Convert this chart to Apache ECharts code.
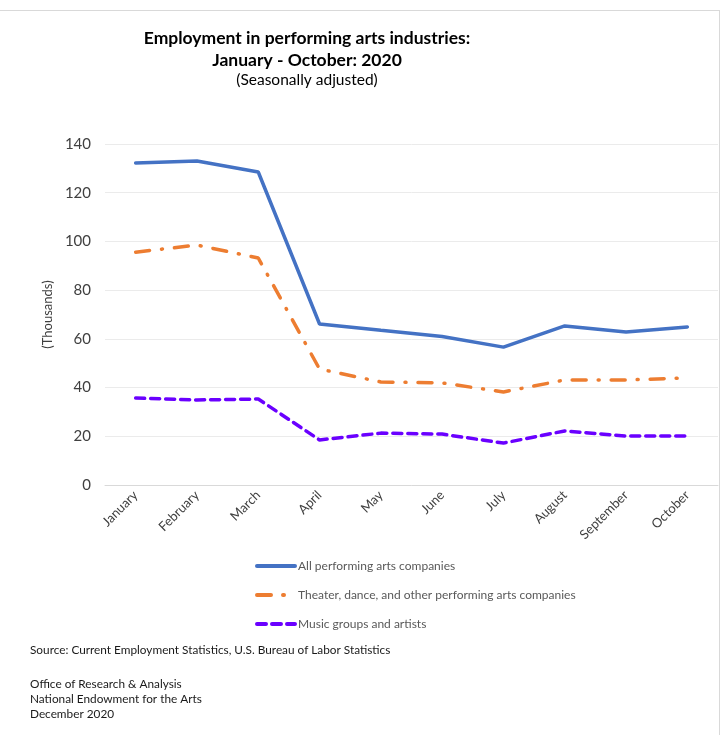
<!DOCTYPE html>
<html><head><meta charset="utf-8">
<script src="https://cdn.jsdelivr.net/npm/echarts@6/dist/echarts.min.js"></script>
<style>html,body{margin:0;padding:0;background:#fff}#c{width:723px;height:735px}
#frame{position:absolute;left:0;top:10px;width:720px;height:725px;border-top:1px solid #d9d9d9;border-right:1px solid #d9d9d9;box-sizing:border-box;pointer-events:none}</style>
</head><body><div id="c"></div><div id="frame"></div>
<script>
const months = ['January','February','March','April','May','June','July','August','September','October'];
const allArts = [132.2, 133.0, 128.5, 66.1, 63.5, 61.0, 56.6, 65.3, 62.8, 64.9];
const theater = [95.6, 98.5, 93.2, 47.6, 42.3, 41.9, 38.2, 43.1, 43.1, 44.0];
const music = [35.7, 34.9, 35.3, 18.5, 21.3, 20.9, 17.2, 22.2, 20.1, 20.1];
const seriesNames = ['All performing arts companies','Theater, dance, and other performing arts companies','Music groups and artists'];

const font = 'Lato, "Open Sans", sans-serif';
const chart = echarts.init(document.getElementById('c'));
chart.setOption({
  animation: false,
  textStyle: {fontFamily: font},
  title: [
    {text: 'Employment in performing arts industries:\nJanuary - October: 2020', left: 302, top: 22, textAlign: 'center',
     textStyle: {fontFamily: font, fontSize: 17.5, fontWeight: 'bold', color: '#000', lineHeight: 22}},
    {text: '(Seasonally adjusted)', left: 302, top: 67, textAlign: 'center',
     textStyle: {fontFamily: font, fontSize: 15.5, fontWeight: 'normal', color: '#000'}}
  ],
  grid: {left: 105, right: 5, top: 144, height: 341, containLabel: false},
  xAxis: {
    type: 'category', data: months, boundaryGap: true,
    axisLine: {lineStyle: {color: '#d9d9d9', width: 1}},
    axisTick: {show: false},
    axisLabel: {rotate: 45, fontSize: 13, color: '#404040', fontFamily: font, margin: 8}
  },
  yAxis: {
    type: 'value', min: 0, max: 140, interval: 20,
    name: '(Thousands)', nameLocation: 'middle', nameGap: 31, nameRotate: 90,
    nameTextStyle: {fontSize: 13, color: '#404040', fontFamily: font},
    axisLine: {show: false}, axisTick: {show: false},
    axisLabel: {fontSize: 15, color: '#404040', fontFamily: font, margin: 14},
    splitLine: {lineStyle: {color: '#ebebeb', width: 1}}
  },
  legend: {
    orient: 'vertical', left: 250, top: 555, itemGap: 17, itemWidth: 38, itemHeight: 13,
    itemStyle: {opacity: 0},
    lineStyle: {width: 4},
    textStyle: {fontSize: 12, color: '#595959', fontFamily: font, padding: [0,0,0,-2]},
    data: seriesNames
  },
  series: [
    {name: seriesNames[0], type: 'line', data: allArts, symbol: 'none',
     lineStyle: {color: '#4472C4', width: 3.5, cap: 'round'}, itemStyle: {color: '#4472C4'}},
    {name: seriesNames[1], type: 'line', data: theater, symbol: 'none',
     lineStyle: {color: '#ED7D31', width: 3.5, type: [14, 12, 1, 12], cap: 'round'}, itemStyle: {color: '#ED7D31'}},
    {name: seriesNames[2], type: 'line', data: music, symbol: 'none',
     lineStyle: {color: '#6A00FF', width: 3.5, type: [9, 6], cap: 'round'}, itemStyle: {color: '#6A00FF'}}
  ],
  graphic: [
    {type: 'text', left: 30, top: 644, style: {text: 'Source: Current Employment Statistics, U.S. Bureau of Labor Statistics', fontSize: 11.8, fill: '#1a1a1a', fontFamily: font}},
    {type: 'text', left: 30, top: 677, style: {text: 'Office of Research & Analysis\nNational Endowment for the Arts\nDecember 2020', fontSize: 11.8, lineHeight: 15, fill: '#1a1a1a', fontFamily: font}}
  ]
});
</script></body></html>
